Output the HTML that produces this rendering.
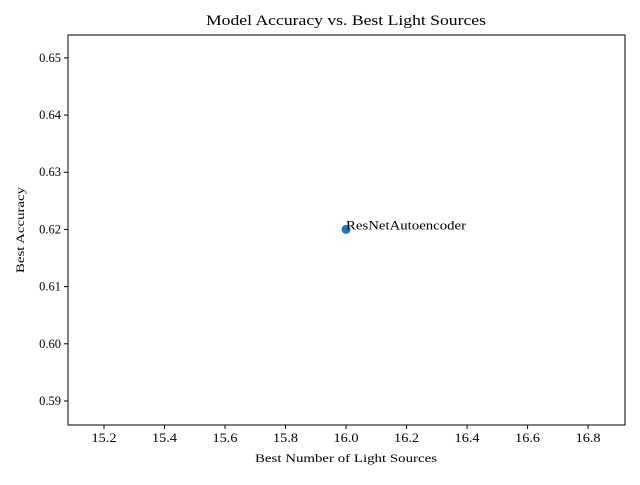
<!DOCTYPE html>
<html><head><meta charset="utf-8"><style>
body{margin:0;background:#fff}
svg text{font-family:"Liberation Serif","DejaVu Serif",serif;fill:#000}
</style></head><body>
<svg id="chart" width="640" height="480">
<rect x="0" y="0" width="640" height="480" fill="#fff"/>
<text x="206" y="25" font-size="15" textLength="280" lengthAdjust="spacingAndGlyphs">Model Accuracy vs. Best Light Sources</text>
<g id="xt"></g><g id="yt"></g><g id="pts"></g>
<rect x="68" y="35" width="557" height="390" fill="none" stroke="#000" stroke-width="1"/>
<text x="255" y="462" font-size="12" textLength="182" lengthAdjust="spacingAndGlyphs">Best Number of Light Sources</text>
<text x="0" y="0" font-size="12" textLength="86" lengthAdjust="spacingAndGlyphs" transform="translate(24,273) rotate(-90)">Best Accuracy</text>
</svg>
<script>
const models=["ResNetAutoencoder"];
const lightSources=[16];
const accuracies=[0.62];
const xTicks=[15.2,15.4,15.6,15.8,16.0,16.2,16.4,16.6,16.8];
const yTicks=[0.59,0.60,0.61,0.62,0.63,0.64,0.65];
const X0=68,X1=625,Y0=425,Y1=35;
const xmin=15.081,xmax=16.922,ymin=0.5858,ymax=0.6540;
const sx=v=>X0+(v-xmin)/(xmax-xmin)*(X1-X0);
const sy=v=>Y0-(v-ymin)/(ymax-ymin)*(Y0-Y1);
const NS="http://www.w3.org/2000/svg";
function mk(t,a,p){const e=document.createElementNS(NS,t);for(const k in a)e.setAttribute(k,a[k]);p.appendChild(e);return e;}
const xt=document.getElementById('xt'),yt=document.getElementById('yt'),pts=document.getElementById('pts');
xTicks.forEach(v=>{const x=sx(v);
const l=mk('line',{x1:x,x2:x,y1:Y0,y2:Y0+4,stroke:'#000'},xt);


const t=mk('text',{x:x,y:Y0+17,'font-size':12.5,'text-anchor':'middle',textLength:25,lengthAdjust:'spacingAndGlyphs'},xt);t.textContent=v.toFixed(1);

});
yTicks.forEach(v=>{const y=sy(v);
const l=mk('line',{x1:X0-4,x2:X0,y1:y,y2:y,stroke:'#000'},yt);


const t=mk('text',{x:X0-7,y:y+4,'font-size':12.5,'text-anchor':'end'},yt);t.textContent=v.toFixed(2);

});
models.forEach((m,i)=>{const x=sx(lightSources[i]),y=sy(accuracies[i]);
const c=mk('circle',{cx:x,cy:y,r:4.5,fill:'#1f77b4'},pts);


const t=mk('text',{x:x,y:y,'font-size':12.5,textLength:120,lengthAdjust:'spacingAndGlyphs'},pts);t.textContent=m;

});
</script>
</body></html>
